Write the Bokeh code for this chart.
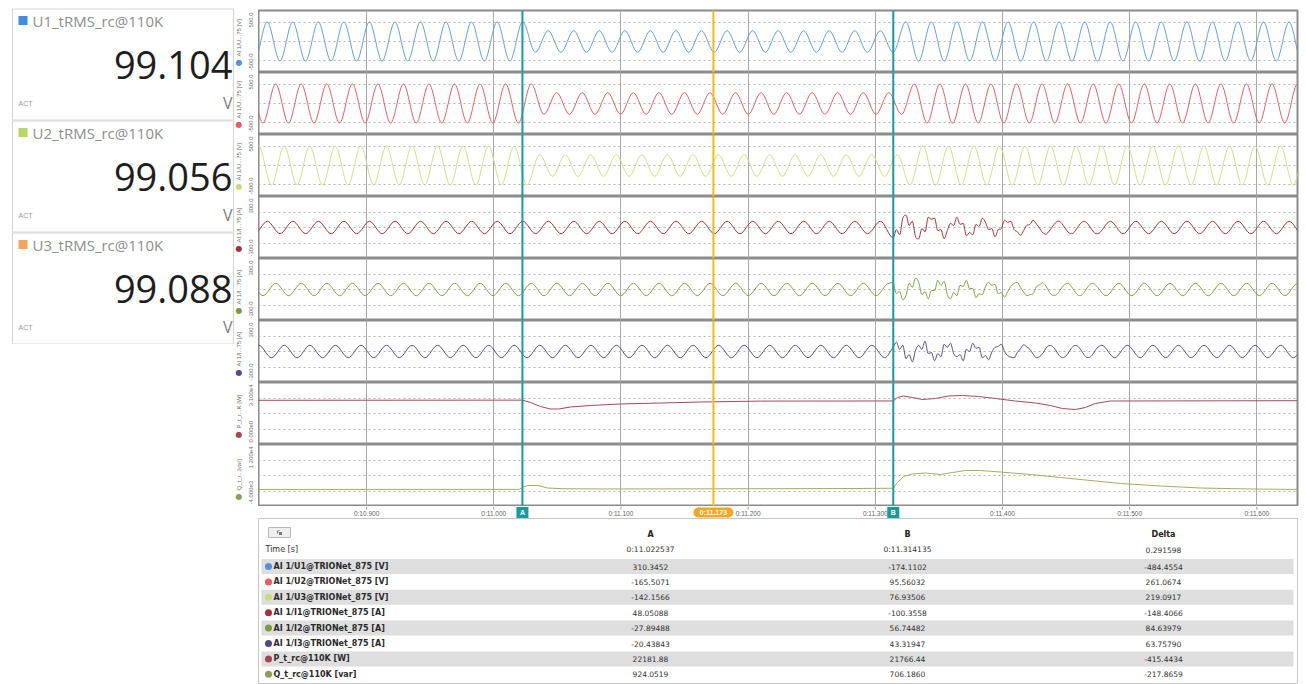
import numpy as np
from math import pi
from bokeh.plotting import figure
from bokeh.models import Range1d, FixedTicker, SingleIntervalTicker, Span, ColumnDataSource
from bokeh.layouts import column, row
from bokeh.embed import file_html
from bokeh.resources import INLINE
from bokeh.core.properties import value

# ---------------- data ----------------
T_START, T_END = 10.815, 11.632
CURSOR_A, CURSOR_B, CURSOR_C = 11.022537, 11.314135, 11.1727
CURSOR_NAMES = ["A", "B", "0:11.173"]
TIME_TICKS = [10.9, 11.0, 11.1, 11.2, 11.3, 11.4, 11.5, 11.6]
TIME_TICK_LABELS = ["0:10.900", "0:11.000", "0:11.100", "0:11.200",
                    "0:11.300", "0:11.400", "0:11.500", "0:11.600"]
HALF_PERIOD = 0.010044          # half period of the mains waveform (s)
NOISE_STEP = 0.0025             # spacing of the disturbed current samples after cursor B (s)

# voltage extrema (first extremum time, its sign, absolute peak values)
U1_T0, U1_SIGN0 = 10.811776, -1
U1_PEAKS = [315] * 22 + [175] * 29 + [315] * 32
U2_T0, U2_SIGN0 = 10.808428, 1
U2_PEAKS = [315] * 23 + [175] * 29 + [315] * 32
U3_T0, U3_SIGN0 = 10.805080, -1
U3_PEAKS = [315] * 23 + [175] * 29 + [315] * 33

# current extrema
I1_T0, I1_SIGN0 = 10.811876, -1
I1_PEAKS = [60] * 83
I2_T0, I2_SIGN0 = 10.808528, 1
I2_PEAKS = [60] * 84
I3_T0, I3_SIGN0 = 10.805180, -1
I3_PEAKS = [60] * 85

# disturbed current samples after cursor B (A)
I1_NOISE = [-100, -20, -70, 90, 120, 20, 60, -90,
            -110, -10, -40, 100, 80, 90, -30, -20,
            -110, -30, 40, 20, 100, 30, 40, -80,
            -50, -70, 30, 10, 90, 50, -20, -10,
            -90, -20, -10, 70, 50, 60, -20, -40,
            -75, -30, 20, 30, 70, 35, -5, -50,
            -65, -35, 5, 45, 62, 40, -5, -45,
            -60, -42, 2, 42, 60, 42, 0, -42,
            -60]
I2_NOISE = [57, -40, -20, -100, -60, 60, 20, 110,
            70, -50, -20, -90, -10, -10, 90, 40,
            80, -50, -90, -30, -60, 40, 30, 90,
            10, 10, -80, -40, -50, 30, 70, 40,
            50, -40, -30, -75, -20, 30, 60, 70,
            20, -25, -60, -50, -40, 25, 45, 65,
            35, -20, -55, -55, -28, 18, 50, 60,
            30, -16, -52, -58, -30, 16, 52, 58,
            30]
I3_NOISE = [43, 90, 20, 60, -70, -30, -100, 10,
            60, 20, 100, -20, -10, -90, -20, -50,
            70, 40, 80, -20, -50, -30, -90, 20,
            0, 80, 30, 40, -60, -40, -80, -5,
            40, 50, 70, 0, -40, -55, -60, -10,
            25, 65, 45, 20, -25, -60, -50, -20,
            30, 58, 52, 16, -30, -58, -52, -16,
            30, 58, 52, 16, -30, -58, -52, -16,
            30]

# active / reactive power
P_T = [10.815, 11.0225, 11.0289, 11.0367, 11.0446, 11.0509, 11.0603, 11.0760, 11.0996,
       11.1311, 11.1625, 11.2097, 11.3141, 11.3174, 11.3221, 11.3292, 11.3370, 11.3473,
       11.3575, 11.3685, 11.3811, 11.3944, 11.4101, 11.4259, 11.4377, 11.4471, 11.4573,
       11.4652, 11.4730, 11.4848, 11.632]
P_V = [22100, 22180, 21000, 19000, 17750, 17750, 18750, 19500, 20250,
       20750, 21250, 21700, 21766, 23500, 24250, 23500, 22500, 23000,
       24250, 24500, 24000, 23000, 21750, 20750, 19500, 18000, 17500,
       18500, 20500, 21750, 21900]
Q_T = [10.815, 11.0200, 11.0225, 11.0268, 11.0347, 11.0425, 11.0543, 11.0858, 11.1625,
       11.2800, 11.3141, 11.3174, 11.3221, 11.3292, 11.3394, 11.3512, 11.3606, 11.3709,
       11.3827, 11.3984, 11.4220, 11.4456, 11.4692, 11.4928, 11.5243, 11.5558, 11.5951, 11.632]
Q_V = [400, 420, 924, 1420, 1420, 770, 590, 520, 560,
       640, 706, 2190, 3740, 4390, 4650, 4260, 4770, 5290,
       5290, 4900, 4260, 3480, 2710, 1940, 1290, 770, 520, 400]

STRIP_NAMES = ["AI 1/U...75 [V]", "AI 1/U...75 [V]", "AI 1/U...75 [V]",
               "AI 1/I...75 [A]", "AI 1/I...75 [A]", "AI 1/I...75 [A]",
               "P_t_r...K [W]", "Q_t_r...[var]"]
STRIP_RANGES = [(-500, 500)] * 3 + [(-300, 300)] * 3 + [(0, 31000), (-4000, 12000)]
STRIP_TICK_TOP = ["500.0"] * 3 + ["300.0"] * 3 + ["3.100e4", "1.200e4"]
STRIP_TICK_BOTTOM = ["-500.0"] * 3 + ["-300.0"] * 3 + ["0.000e0", "-4.000e3"]

CARD_TITLES = ["U1_tRMS_rc@110K", "U2_tRMS_rc@110K", "U3_tRMS_rc@110K"]
CARD_VALUES = ["99.104", "99.056", "99.088"]
CARD_UNITS = ["V", "V", "V"]

TABLE_COLS = ["A", "B", "Delta"]
TABLE_TIME = ["0:11.022537", "0:11.314135", "0.291598"]
TABLE_ROWS = ["AI 1/U1@TRIONet_875 [V]", "AI 1/U2@TRIONet_875 [V]", "AI 1/U3@TRIONet_875 [V]",
              "AI 1/I1@TRIONet_875 [A]", "AI 1/I2@TRIONet_875 [A]", "AI 1/I3@TRIONet_875 [A]",
              "P_t_rc@110K [W]", "Q_t_rc@110K [var]"]
TABLE_A = ["310.3452", "-165.5071", "-142.1566", "48.05088", "-27.89488", "-20.43843", "22181.88", "924.0519"]
TABLE_B = ["-174.1102", "95.56032", "76.93506", "-100.3558", "56.74482", "43.31947", "21766.44", "706.1860"]
TABLE_D = ["-484.4554", "261.0674", "219.0917", "-148.4066", "84.63979", "63.75790", "-415.4434", "-217.8659"]

# ---------------- styles ----------------
WAVE_COLORS = ["#6a9fdc", "#e5606a", "#cfe38c", "#a3323f", "#86a043", "#5b4b8a", "#a9485a", "#a9ab62"]
DOT_COLORS = ["#4f93dc", "#ea5a60", "#c4de7a", "#a3323f", "#7f9a45", "#544889", "#a8444f", "#8f9f52"]
CARD_COLORS = ["#3d8de2", "#b7d862", "#f6a35e"]
TEAL = "#169c9e"
ORANGE = "#f6a623"
CURSOR_YELLOW = "#f2bd12"
UI = "Liberation Sans"
STRIP_H = 62
TOP_PAD = 10
LEFT_W = 24
FRAME_W = 1039


def extrema(t0, sign0, peaks, noise=None):
    n = len(peaks)
    t = t0 + HALF_PERIOD * np.arange(n)
    v = np.asarray(peaks, float) * sign0 * np.where(np.arange(n) % 2 == 0, 1.0, -1.0)
    if noise is not None:
        tn = CURSOR_B + NOISE_STEP * np.arange(len(noise))
        keep = (t < CURSOR_B - 0.001) | (t > tn[-1] + 0.0005)
        t = np.concatenate([t[keep], tn])
        v = np.concatenate([v[keep], np.asarray(noise, float)])
        o = np.argsort(t)
        t, v = t[o], v[o]
    return t, v


def bezier_src(t, v):
    n = len(t)
    m = np.zeros(n)
    m[1:-1] = (v[2:] - v[:-2]) / (t[2:] - t[:-2])
    turn = np.zeros(n, bool)
    turn[1:-1] = (v[1:-1] - v[:-2]) * (v[2:] - v[1:-1]) <= 0
    m[turn] = 0.0
    dt = np.diff(t)
    return ColumnDataSource(dict(
        x0=t[:-1], y0=v[:-1], x1=t[1:], y1=v[1:],
        cx0=t[:-1] + dt / 3, cy0=v[:-1] + m[:-1] * dt / 3,
        cx1=t[1:] - dt / 3, cy1=v[1:] - m[1:] * dt / 3))


def bare(width, height, xr, yr, **borders):
    kw = dict(min_border_left=0, min_border_right=0, min_border_top=0, min_border_bottom=0)
    kw.update(borders)
    p = figure(width=width, height=height, x_range=xr, y_range=yr, title=None,
               output_backend="svg", toolbar_location=None,
               x_axis_location=None, y_axis_location=None,
               background_fill_color="white", border_fill_color="white", **kw)
    p.outline_line_color = None
    p.grid.visible = False
    return p


WAVES = [
    extrema(U1_T0, U1_SIGN0, U1_PEAKS),
    extrema(U2_T0, U2_SIGN0, U2_PEAKS),
    extrema(U3_T0, U3_SIGN0, U3_PEAKS),
    extrema(I1_T0, I1_SIGN0, I1_PEAKS, I1_NOISE),
    extrema(I2_T0, I2_SIGN0, I2_PEAKS, I2_NOISE),
    extrema(I3_T0, I3_SIGN0, I3_PEAKS, I3_NOISE),
]

xr = Range1d(T_START, T_END)
GRID_FRACTIONS = [(-0.6, 0.0, 0.6)] * 3 + [(-0.5, 0.0, 0.5)] * 3 + [(0.25, 0.5, 0.75)] * 2

strip_rows = []
for i in range(8):
    lo, hi = STRIP_RANGES[i]
    top = TOP_PAD if i == 0 else 0
    h = STRIP_H + top
    p = figure(width=FRAME_W + 3, height=h, x_range=xr, y_range=Range1d(lo, hi),
               title=None, output_backend="svg", toolbar_location=None,
               x_axis_location=None, y_axis_location=None,
               min_border_left=0, min_border_right=3, min_border_top=top, min_border_bottom=0,
               background_fill_color="white", border_fill_color="white")
    p.outline_line_color = "#8c8c8c"
    p.outline_line_width = 2
    p.xgrid.ticker = SingleIntervalTicker(interval=0.1)
    p.xgrid.grid_line_color = "#a9a9a9"
    p.xgrid.grid_line_width = 1
    if i < 6:
        half = (hi - lo) / 2.0
        gt = [f * half for f in GRID_FRACTIONS[i]]
    else:
        gt = [lo + f * (hi - lo) for f in GRID_FRACTIONS[i]]
    p.ygrid.ticker = FixedTicker(ticks=gt)
    p.ygrid.grid_line_color = "#b4b4b4"
    p.ygrid.grid_line_dash = "2 3"
    p.ygrid.grid_line_width = 1

    if i < 6:
        t, v = WAVES[i]
        p.bezier(x0="x0", y0="y0", x1="x1", y1="y1", cx0="cx0", cy0="cy0",
                 cx1="cx1", cy1="cy1", source=bezier_src(t, v),
                 line_color=WAVE_COLORS[i], line_width=1)
    elif i == 6:
        p.line(P_T, P_V, line_color=WAVE_COLORS[i], line_width=1)
    else:
        p.line(Q_T, Q_V, line_color=WAVE_COLORS[i], line_width=1)

    p.add_layout(Span(location=CURSOR_A, dimension="height", line_color=TEAL, line_width=2))
    p.add_layout(Span(location=CURSOR_B, dimension="height", line_color=TEAL, line_width=2))
    p.add_layout(Span(location=CURSOR_C, dimension="height", line_color=CURSOR_YELLOW, line_width=2))

    # left label column for this strip (pixel-like units inside its own frame)
    lab = bare(LEFT_W, h, Range1d(0, LEFT_W), Range1d(0, STRIP_H), min_border_top=top)
    lab.text(x=[4.5], y=[10], text=["\u25cf"], text_color=DOT_COLORS[i], text_font=value("DejaVu Sans"),
             text_font_size="8px", text_align="center", text_baseline="middle")
    lab.text(x=[4.5], y=[16], text=[STRIP_NAMES[i]], angle=pi / 2, text_color="#6e6e6e",
             text_font=value(UI), text_font_size="6px", text_align="left", text_baseline="middle")
    lab.text(x=[16.5], y=[STRIP_H - 2], text=[STRIP_TICK_TOP[i]], angle=pi / 2, text_color="#6e6e6e",
             text_font=value(UI), text_font_size="6px", text_align="right", text_baseline="middle")
    lab.text(x=[16.5], y=[2], text=[STRIP_TICK_BOTTOM[i]], angle=pi / 2, text_color="#6e6e6e",
             text_font=value(UI), text_font_size="6px", text_align="left", text_baseline="middle")
    strip_rows.append(row(lab, p, spacing=0))

# ---------------- time axis band with cursor markers ----------------
AX_H = 12
SEC_PER_PX = (T_END - T_START) / FRAME_W
ax = bare(LEFT_W + FRAME_W + 3, AX_H, xr, Range1d(0, AX_H), min_border_left=LEFT_W, min_border_right=3)
ax.segment(x0=TIME_TICKS, y0=[AX_H] * len(TIME_TICKS), x1=TIME_TICKS, y1=[AX_H - 3] * len(TIME_TICKS),
           line_color="#9a9a9a", line_width=1)
ax.text(x=TIME_TICKS, y=[5.5] * len(TIME_TICKS), text=TIME_TICK_LABELS, text_font=value(UI),
        text_font_size="6.5px", text_color="#666666", text_align="center", text_baseline="middle")
ax.rect(x=[CURSOR_A, CURSOR_B], y=[6, 6], width=12, height=11, width_units="screen",
        height_units="screen", fill_color=TEAL, line_color=None)
ax.rect(x=[CURSOR_C], y=[6], width=30, height=10, width_units="screen", height_units="screen",
        fill_color=ORANGE, line_color=None)
ax.scatter(x=[CURSOR_C - 15 * SEC_PER_PX, CURSOR_C + 15 * SEC_PER_PX], y=[6, 6], size=10,
           fill_color=ORANGE, line_color=None)
ax.text(x=[CURSOR_A, CURSOR_B, CURSOR_C], y=[6, 6, 6], text=CURSOR_NAMES, text_font=value(UI),
        text_font_style="bold", text_font_size="7px", text_color="white",
        text_align="center", text_baseline="middle")

# ---------------- cursor table ----------------
TB_H = 166
tb = bare(LEFT_W + FRAME_W + 3, TB_H, Range1d(0, FRAME_W), Range1d(TB_H, 0),
          min_border_left=LEFT_W, min_border_right=3)
tb.outline_line_color = "#c6c6c6"
tb.outline_line_width = 1

COL_X = [392, 649, 905]
row_y = 48 + 15.4 * np.arange(len(TABLE_ROWS))
shade = row_y[::2]
tb.quad(left=3, right=1035, top=shade - 7.5, bottom=shade + 7.5, fill_color="#dedede", line_color=None)
tb.rect(x=[21], y=[14], width=22, height=10, fill_color="#efefef", line_color="#b8b8b8")
tb.rect(x=[20, 22], y=[13.5, 15], width=4, height=4, fill_color="#7a7a7a", line_color="#efefef")
tb.text(x=COL_X, y=[16] * 3, text=TABLE_COLS, text_font=value("DejaVu Sans"), text_font_style="bold",
        text_font_size="8px", text_align="center", text_baseline="middle", text_color="#222222")
tb.text(x=[7], y=[31], text=["Time [s]"], text_font=value("DejaVu Sans"), text_font_size="8px",
        text_baseline="middle", text_color="#333333")
tb.text(x=COL_X, y=[31] * 3, text=TABLE_TIME, text_font=value("DejaVu Sans"), text_font_size="7.5px",
        text_align="center", text_baseline="middle", text_color="#333333")
tb.scatter(x=[10] * len(TABLE_ROWS), y=row_y, size=7, fill_color=DOT_COLORS, line_color=None)
tb.text(x=[15] * len(TABLE_ROWS), y=row_y, text=TABLE_ROWS, text_font=value("DejaVu Sans"),
        text_font_style="bold", text_font_size="8px", text_baseline="middle", text_color="#2a2a2a")
for cx, vals in zip(COL_X, [TABLE_A, TABLE_B, TABLE_D]):
    tb.text(x=[cx] * len(vals), y=row_y, text=vals, text_font=value("DejaVu Sans"),
            text_font_size="7.5px", text_align="center", text_baseline="middle", text_color="#333333")

# ---------------- value cards ----------------
CARD_W, CARD_H = 234, 344
cards = bare(CARD_W, CARD_H, Range1d(0, CARD_W), Range1d(CARD_H, 0))
ctop = 8 + 112.0 * np.arange(3)
cards.quad(left=12, right=233, top=ctop + 0.5, bottom=ctop + 111.5, fill_color="white",
           line_color="#d6d6d6")
cards.rect(x=[22.5] * 3, y=ctop + 12, width=9, height=9, fill_color=CARD_COLORS, line_color=None)
cards.text(x=[32] * 3, y=ctop + 12, text=CARD_TITLES, text_font=value("Open Sans"),
           text_font_size="15px", text_color="#8e8e8e", text_baseline="middle")
cards.text(x=[232] * 3, y=ctop + 56, text=CARD_VALUES, text_font=value("Open Sans"),
           text_font_size="38px", text_color="#1e1e1e", text_align="right", text_baseline="middle")
cards.text(x=[18] * 3, y=ctop + 95, text=["ACT"] * 3, text_font=value(UI),
           text_font_size="7px", text_color="#9a9a9a", text_baseline="middle")
cards.text(x=[232] * 3, y=ctop + 94, text=CARD_UNITS, text_font=value("Open Sans"),
           text_font_size="16px", text_color="#7e7e7e", text_align="right", text_baseline="middle")

layout = row(cards, column(*strip_rows, ax, tb, spacing=0), spacing=0)
open("out.html", "w").write(file_html(layout, INLINE))
